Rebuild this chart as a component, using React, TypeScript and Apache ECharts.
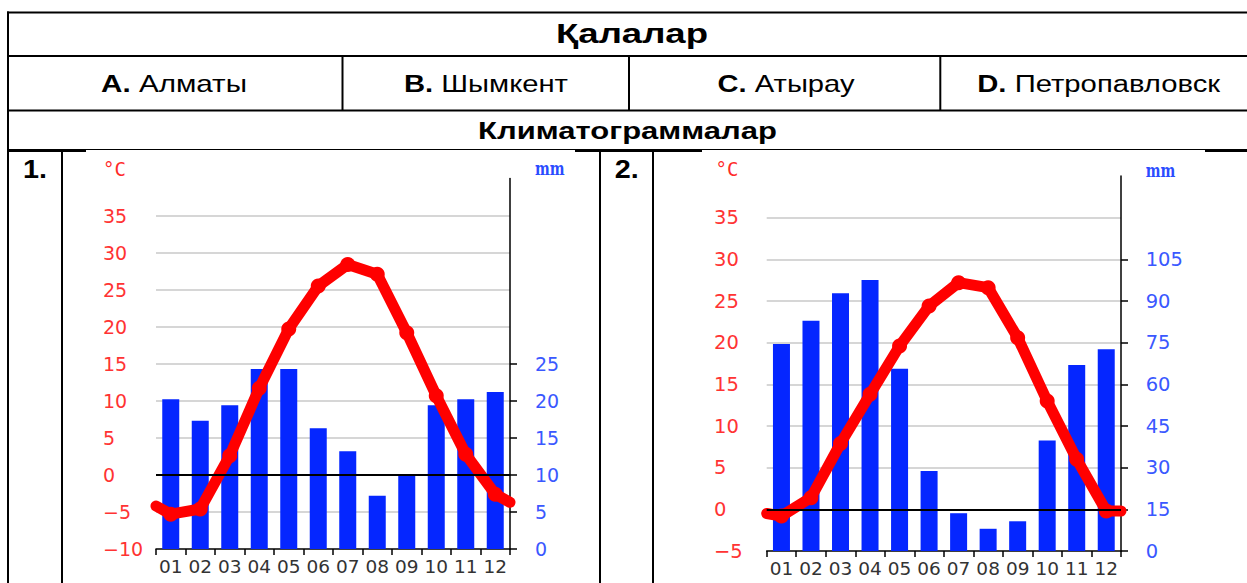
import React, { useEffect, useRef } from "react";
import * as echarts from "echarts";

// ---------- data ----------
const months = ["01", "02", "03", "04", "05", "06", "07", "08", "09", "10", "11", "12"];

// Climatogram 1
const precip1 = [20.2, 17.3, 19.4, 24.3, 24.3, 16.3, 13.2, 7.2, 10.1, 19.4, 20.2, 21.2];
const temp1 = [-5.3, -4.6, 2.6, 11.7, 19.7, 25.5, 28.4, 27.1, 19.2, 10.7, 2.8, -2.6];
const tempEdge1 = [-4.2, -3.7]; // line ends at the plot edges
const precipLabels1 = [0, 5, 10, 15, 20, 25];

// Climatogram 2
const precip2 = [74.5, 82.9, 92.8, 97.6, 65.6, 28.8, 13.6, 8.0, 10.7, 39.8, 67.0, 72.6];
const temp2 = [-0.8, 1.4, 7.9, 13.8, 19.6, 24.4, 27.2, 26.6, 20.6, 13.0, 6.0, -0.2];
const tempEdge2 = [-0.5, -0.2];
const precipLabels2 = [0, 15, 30, 45, 60, 75, 90, 105];

// Table texts
const titleText = "Қалалар";
const subtitleText = "Климатограммалар";
const cityLetters = ["A.", "B.", "C.", "D."];
const cityNames = ["Алматы", "Шымкент", "Атырау", "Петропавловск"];
const panelNumbers = ["1.", "2."];
const tempUnit = "°C";
const precipUnit = "mm";

// ---------- helpers ----------
const FONT = '"Liberation Sans", Arial, sans-serif';
let measureCtx: CanvasRenderingContext2D | null = null;
function textWidth(text: string, size: number, bold: boolean) {
  if (!measureCtx) measureCtx = document.createElement("canvas").getContext("2d");
  if (!measureCtx) return text.length * size * 0.55;
  measureCtx.font = `${bold ? "bold " : ""}${size}px ${FONT}`;
  return measureCtx.measureText(text).width;
}

function centeredText(
  parts: { t: string; bold: boolean }[],
  cx: number,
  cy: number,
  size: number,
  targetWidth: number
) {
  const natural = parts.reduce((s, p) => s + textWidth(p.t, size, p.bold), 0);
  const sx = targetWidth / natural;
  const rich: any = {
    b: { fontWeight: "bold", fontSize: size, fontFamily: FONT, fill: "#000" },
    n: { fontWeight: "normal", fontSize: size, fontFamily: FONT, fill: "#000" },
  };
  const text = parts.map((p) => `{${p.bold ? "b" : "n"}|${p.t}}`).join("");
  return {
    type: "text",
    x: cx,
    y: cy,
    scaleX: sx,
    silent: true,
    style: {
      text,
      rich,
      fontSize: size,
      fontFamily: FONT,
      align: "center",
      verticalAlign: "middle",
      textAlign: "center",
      textVerticalAlign: "middle",
      fill: "#000",
    },
  };
}

function hLine(x1: number, x2: number, y: number, w: number) {
  return { type: "line", silent: true, shape: { x1, y1: y, x2, y2: y }, style: { stroke: "#000", lineWidth: w } };
}
function vLine(x: number, y1: number, y2: number, w: number) {
  return { type: "line", silent: true, shape: { x1: x, y1, x2: x, y2 }, style: { stroke: "#000", lineWidth: w } };
}

type Cfg = {
  left: number; top: number; width: number; height: number;
  tMin: number; tMax: number; pMax: number; pInt: number;
  temp: number[]; edges: number[]; precip: number[]; pLabels: number[];
  fs: number; lm: number; rm: number;
};

function buildChart(i: number, c: Cfg) {
  const grid = { left: c.left, top: c.top, width: c.width, height: c.height, containLabel: false };
  const xAxes = [
    {
      gridIndex: i, type: "category", data: months, boundaryGap: true,
      axisLine: { onZero: false, lineStyle: { color: "#000", width: 1.5 } },
      axisTick: { show: true, length: 6, lineStyle: { color: "#000", width: 1.5 } },
      axisLabel: { interval: 0, color: "#333", fontSize: 18.5, fontFamily: "DejaVu Sans", margin: 8 },
      splitLine: { show: false },
    },
    { gridIndex: i, type: "value", min: 0, max: 12, show: false },
  ];
  const yAxes = [
    {
      gridIndex: i, type: "value", position: "left", min: c.tMin, max: c.tMax, interval: 5,
      axisLine: { show: false }, axisTick: { show: false },
      splitLine: { show: true, showMinLine: false, showMaxLine: false, lineStyle: { color: "#c8c8c8", width: 1.5 } },
      axisLabel: {
        color: "#ff3333", fontSize: c.fs, fontFamily: "DejaVu Sans", align: "left", margin: c.lm,
        formatter: (v: number) => (v >= c.tMax ? "" : v < 0 ? "\u2212" + Math.abs(v) : String(v)),
      },
    },
    {
      gridIndex: i, type: "value", position: "right", min: 0, max: c.pMax, interval: c.pInt,
      axisLine: { show: true, onZero: false, lineStyle: { color: "#000", width: 1.5 } },
      axisTick: { show: true, length: 7, customValues: c.pLabels, lineStyle: { color: "#000", width: 1.5 } },
      splitLine: { show: false },
      axisLabel: {
        customValues: c.pLabels, color: "#3a58ff", fontSize: c.fs, fontFamily: "DejaVu Sans", margin: c.rm,
        formatter: (v: number) => (c.pLabels.indexOf(v) >= 0 ? String(v) : ""),
      },
    },
  ];
  const lineData: any[] = [
    { value: [0, c.edges[0]], symbol: "none" },
    ...c.temp.map((t, k) => [k + 0.5, t]),
    { value: [12, c.edges[1]], symbol: "none" },
  ];
  const series = [
    {
      type: "bar", xAxisIndex: 2 * i, yAxisIndex: 2 * i + 1, data: c.precip, barWidth: 17,
      itemStyle: { color: "#0526ff" }, z: 2, silent: true,
    },
    {
      type: "line", xAxisIndex: 2 * i + 1, yAxisIndex: 2 * i, data: lineData, symbol: "none",
      lineStyle: { opacity: 0 }, z: 3, silent: true,
      markLine: {
        silent: true, symbol: "none", label: { show: false },
        lineStyle: { color: "#000", width: 2, type: "solid" }, data: [{ yAxis: 0 }],
      },
    },
    {
      type: "line", xAxisIndex: 2 * i + 1, yAxisIndex: 2 * i, data: lineData, symbol: "circle",
      symbolSize: 15, showSymbol: true, itemStyle: { color: "#ff0000" },
      lineStyle: { color: "#ff0000", width: 11, cap: "round", join: "round" }, z: 4, silent: true,
    },
  ];
  return { grid, xAxes, yAxes, series };
}

export default function App() {
  const ref = useRef<HTMLDivElement>(null);
  useEffect(() => {
    document.body.style.margin = "0";
    if (!ref.current) return;
    const chart = echarts.init(ref.current, null, { renderer: "svg" });

    const c1 = buildChart(0, {
      left: 156, top: 178.6, width: 354, height: 370.4,
      tMin: -10, tMax: 40, pMax: 50, pInt: 5,
      temp: temp1, edges: tempEdge1, precip: precip1, pLabels: precipLabels1,
      fs: 19, lm: 53, rm: 25,
    });
    const c2 = buildChart(1, {
      left: 766.7, top: 176, width: 354.3, height: 375,
      tMin: -5, tMax: 40, pMax: 135, pInt: 15,
      temp: temp2, edges: tempEdge2, precip: precip2, pLabels: precipLabels2,
      fs: 19.5, lm: 52.7, rm: 24.7,
    });

    const cityCenters = [174, 486, 786, 1098.7];
    const cityWidths = [146, 164, 137, 243];

    const graphics: any[] = [
      // table borders
      hLine(7, 1247, 12.5, 2),
      vLine(8, 11.5, 583, 2),
      hLine(7, 1247, 56, 2),
      hLine(7, 1247, 110.5, 2),
      hLine(7, 1247, 149.5, 1),
      hLine(7, 86, 151, 2),
      hLine(575, 702, 151, 2),
      hLine(1205, 1247, 151, 2),
      vLine(342.5, 56, 110.5, 2),
      vLine(629, 56, 110.5, 2),
      vLine(940.3, 56, 110.5, 2),
      vLine(62, 150, 583, 2),
      vLine(600, 150, 583, 2),
      vLine(653, 150, 583, 2),
      // texts
      centeredText([{ t: titleText, bold: true }], 632, 34, 27, 152),
      centeredText([{ t: subtitleText, bold: true }], 627.5, 131, 24.5, 299),
      ...cityLetters.map((l, k) =>
        centeredText([{ t: l, bold: true }, { t: " " + cityNames[k], bold: false }], cityCenters[k], 84, 24, cityWidths[k])
      ),
      centeredText([{ t: panelNumbers[0], bold: true }], 35, 170, 25, 24),
      centeredText([{ t: panelNumbers[1], bold: true }], 626.7, 170, 25, 24),
      // unit labels
      {
        type: "text", x: 103, y: 169, silent: true,
        style: { text: tempUnit, fill: "#ff2a2a", fontSize: 19, fontFamily: "DejaVu Sans Mono",
          align: "left", verticalAlign: "middle", textAlign: "left", textVerticalAlign: "middle" },
      },
      {
        type: "text", x: 715.5, y: 169, silent: true,
        style: { text: tempUnit, fill: "#ff2a2a", fontSize: 19, fontFamily: "DejaVu Sans Mono",
          align: "left", verticalAlign: "middle", textAlign: "left", textVerticalAlign: "middle" },
      },
      {
        type: "text", x: 535, y: 169, scaleY: 1.3, silent: true,
        style: { text: precipUnit, fill: "#2a4cff", fontSize: 14, fontWeight: "bold", fontFamily: "DejaVu Serif",
          align: "left", verticalAlign: "middle", textAlign: "left", textVerticalAlign: "middle" },
      },
      {
        type: "text", x: 1145.7, y: 170.5, scaleY: 1.3, silent: true,
        style: { text: precipUnit, fill: "#2a4cff", fontSize: 14, fontWeight: "bold", fontFamily: "DejaVu Serif",
          align: "left", verticalAlign: "middle", textAlign: "left", textVerticalAlign: "middle" },
      },
    ];

    chart.setOption({
      animation: false,
      backgroundColor: "#fff",
      grid: [c1.grid, c2.grid],
      xAxis: [...c1.xAxes, ...c2.xAxes],
      yAxis: [...c1.yAxes, ...c2.yAxes],
      series: [...c1.series, ...c2.series],
      graphic: { elements: graphics },
    });
    return () => chart.dispose();
  }, []);
  return <div ref={ref} style={{ width: 1247, height: 583 }} />;
}
